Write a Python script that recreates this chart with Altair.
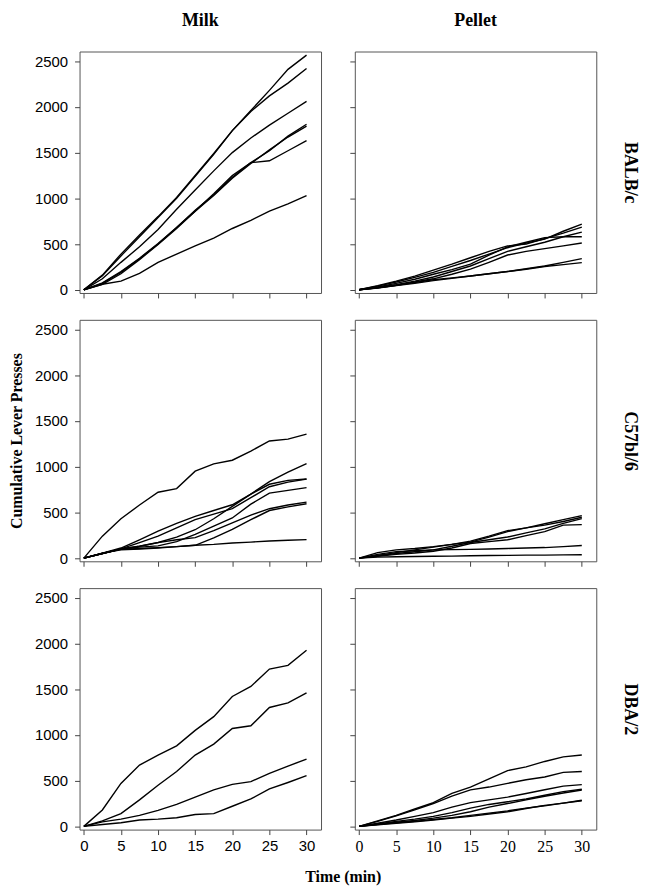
import altair as alt
import pandas as pd

# ---------------- data ----------------
TIME = [0, 2.5, 5, 7.5, 10, 12.5, 15, 17.5, 20, 22.5, 25, 27.5, 30]
STRAINS = ["BALB/c", "C57bl/6", "DBA/2"]
FOODS = ["Milk", "Pellet"]
X_TICKS = [0, 5, 10, 15, 20, 25, 30]
Y_TICKS = [0, 500, 1000, 1500, 2000, 2500]

BALB_MILK = [
    [0, 160, 390, 600, 800, 1010, 1250, 1490, 1740, 1960, 2180, 2410, 2565],
    [0, 155, 370, 580, 790, 1000, 1240, 1480, 1740, 1950, 2120, 2260, 2420],
    [0, 120, 300, 470, 660, 880, 1090, 1300, 1500, 1660, 1800, 1930, 2060],
    [0, 70, 190, 340, 500, 680, 870, 1040, 1230, 1390, 1520, 1680, 1810],
    [0, 60, 175, 330, 495, 670, 860, 1030, 1220, 1380, 1530, 1670, 1790],
    [0, 75, 200, 345, 505, 680, 860, 1050, 1250, 1390, 1410, 1520, 1630],
    [0, 60, 95, 180, 300, 390, 480, 565, 670, 760, 860, 940, 1030],
]
BALB_PELLET = [
    [0, 40, 85, 135, 190, 255, 320, 390, 460, 510, 555, 640, 717],
    [0, 45, 95, 150, 215, 280, 350, 420, 480, 500, 560, 620, 685],
    [0, 25, 55, 95, 140, 200, 260, 340, 420, 470, 520, 580, 630],
    [0, 30, 70, 115, 170, 220, 280, 380, 470, 520, 570, 580, 580],
    [0, 22, 50, 85, 120, 170, 225, 300, 380, 420, 450, 480, 511],
    [0, 20, 45, 70, 100, 125, 150, 175, 200, 230, 260, 300, 340],
    [0, 22, 50, 80, 110, 130, 150, 175, 200, 225, 255, 275, 297],
]
C57_MILK = [
    [0, 240, 430, 580, 720, 760, 950, 1030, 1070, 1170, 1280, 1300, 1355],
    [0, 50, 100, 130, 170, 230, 310, 430, 565, 700, 836, 940, 1034],
    [0, 55, 110, 200, 295, 380, 457, 520, 583, 700, 807, 850, 864],
    [0, 50, 100, 170, 240, 330, 420, 480, 540, 660, 780, 830, 864],
    [0, 50, 100, 120, 133, 180, 259, 350, 439, 590, 710, 740, 771],
    [0, 50, 100, 130, 169, 200, 223, 300, 385, 470, 540, 580, 612],
    [0, 50, 95, 105, 115, 125, 140, 220, 313, 420, 520, 560, 594],
    [0, 55, 90, 100, 110, 125, 140, 150, 165, 175, 187, 195, 202],
]
C57_PELLET = [
    [0, 60, 90, 105, 125, 150, 175, 230, 290, 330, 375, 420, 464],
    [0, 30, 60, 90, 120, 150, 185, 240, 300, 330, 360, 400, 446],
    [0, 25, 50, 70, 90, 130, 170, 200, 230, 275, 320, 380, 431],
    [0, 20, 40, 55, 75, 110, 160, 180, 200, 245, 290, 360, 366],
    [0, 40, 70, 80, 90, 92, 95, 100, 105, 110, 115, 125, 138],
    [0, 10, 15, 18, 20, 22, 25, 28, 30, 32, 33, 35, 36],
]
DBA_MILK = [
    [0, 180, 470, 670, 780, 880, 1050, 1200, 1420, 1530, 1720, 1760, 1925],
    [0, 60, 140, 290, 450, 600, 780, 900, 1070, 1100, 1300, 1350, 1460],
    [0, 50, 80, 120, 175, 240, 320, 400, 460, 490, 580, 660, 735],
    [0, 20, 40, 70, 80, 95, 130, 140, 220, 300, 410, 480, 555],
]
DBA_PELLET = [
    [0, 60, 120, 190, 260, 360, 430, 520, 610, 650, 710, 760, 780],
    [0, 55, 115, 180, 250, 330, 400, 430, 470, 510, 540, 590, 600],
    [0, 35, 70, 110, 150, 210, 260, 290, 320, 360, 400, 440, 457],
    [0, 28, 55, 80, 110, 150, 200, 240, 270, 300, 340, 380, 406],
    [0, 22, 45, 65, 90, 120, 160, 210, 250, 290, 330, 365, 398],
    [0, 20, 40, 55, 75, 95, 120, 145, 170, 200, 225, 255, 286],
    [0, 18, 35, 50, 70, 90, 110, 135, 160, 195, 230, 255, 280],
]

PANELS = {
    ("BALB/c", "Milk"): BALB_MILK,
    ("BALB/c", "Pellet"): BALB_PELLET,
    ("C57bl/6", "Milk"): C57_MILK,
    ("C57bl/6", "Pellet"): C57_PELLET,
    ("DBA/2", "Milk"): DBA_MILK,
    ("DBA/2", "Pellet"): DBA_PELLET,
}

records = []
for (strain, food), lines in PANELS.items():
    for i, vals in enumerate(lines):
        for t, v in zip(TIME, vals):
            records.append({"strain": strain, "food": food, "mouse": i,
                            "time": t, "presses": v})
df = pd.DataFrame(records)

# ---------------- style ----------------
SERIF = "Liberation Serif"
SANS = "Liberation Sans"
X_DOMAIN = [-0.575, 31.95]
Y_DOMAIN = [-35, 2605]
W, H = 243, 243
FRAME = "#555555"
TICK = "#444444"

xscale = alt.Scale(domain=X_DOMAIN, nice=False, zero=False)
yscale = alt.Scale(domain=Y_DOMAIN, nice=False, zero=False)


def panel(r, c):
    strain, food = STRAINS[r], FOODS[c]
    d = df[(df.strain == strain) & (df.food == food)]
    bottom = r == 2
    left = c == 0

    xaxis = alt.Axis(values=X_TICKS, labels=bottom, title=None, domain=False,
                     grid=False, tickSize=5, tickColor=TICK, labelColor="black",
                     labelFont=SANS if left else SERIF,
                     labelFontSize=15 if left else 16,
                     labelPadding=4, labelFlush=False, format="d")
    if left:
        yaxis = alt.Axis(values=Y_TICKS, labels=True, domain=False, grid=False,
                         tickSize=5, tickColor=TICK, labelColor="black",
                         labelFont=SANS, labelFontSize=15, labelPadding=7,
                         format="d", title="Cumulative Lever Presses",
                         titleFont=SERIF, titleFontSize=16, titleFontWeight="bold",
                         titleColor="black" if r == 1 else "transparent",
                         titlePadding=10)
    else:
        yaxis = alt.Axis(values=Y_TICKS, labels=False, domain=False, grid=False,
                         tickSize=5, tickColor=TICK, title=None)

    lines = alt.Chart(d).mark_line(color="black", strokeWidth=1.4).encode(
        x=alt.X("time:Q", scale=xscale, axis=xaxis),
        y=alt.Y("presses:Q", scale=yscale, axis=yaxis),
        detail="mouse:N",
    )

    if left:
        ch = lines.properties(width=W, height=H)
    else:
        # invisible layer that only carries the strain label as a right-side axis title
        label_layer = alt.Chart(d).mark_point(opacity=0).encode(
            y=alt.Y("presses:Q", scale=yscale,
                    axis=alt.Axis(orient="right", title=strain, ticks=False,
                                  tickSize=0, labels=False, labelPadding=0,
                                  domain=False, grid=False, titleFont=SERIF,
                                  titleFontSize=18, titleFontWeight="bold",
                                  titleColor="black", titleAngle=90,
                                  titlePadding=24)),
        )
        ch = alt.layer(lines, label_layer).resolve_axis(y="independent").properties(
            width=W, height=H)

    if r == 0:
        ch = ch.properties(title=alt.TitleParams(
            food, font=SERIF, fontSize=18, fontWeight="bold", color="black",
            anchor="middle", frame="group", baseline="alphabetic", offset=8))
    return ch


rows = []
for r in range(3):
    rows.append(alt.hconcat(panel(r, 0), panel(r, 1), spacing=27))

chart = alt.vconcat(*rows, spacing=20).properties(
    title=alt.TitleParams("Time (min)", orient="bottom", anchor="middle",
                          font=SERIF, fontSize=16, fontWeight="bold",
                          color="black", offset=14, dx=20),
    padding={"left": 0, "top": 0, "right": 2, "bottom": 2},
).configure_view(stroke=FRAME, strokeWidth=1)

chart.save("out.html", embed_options={"renderer": "svg", "actions": False})
